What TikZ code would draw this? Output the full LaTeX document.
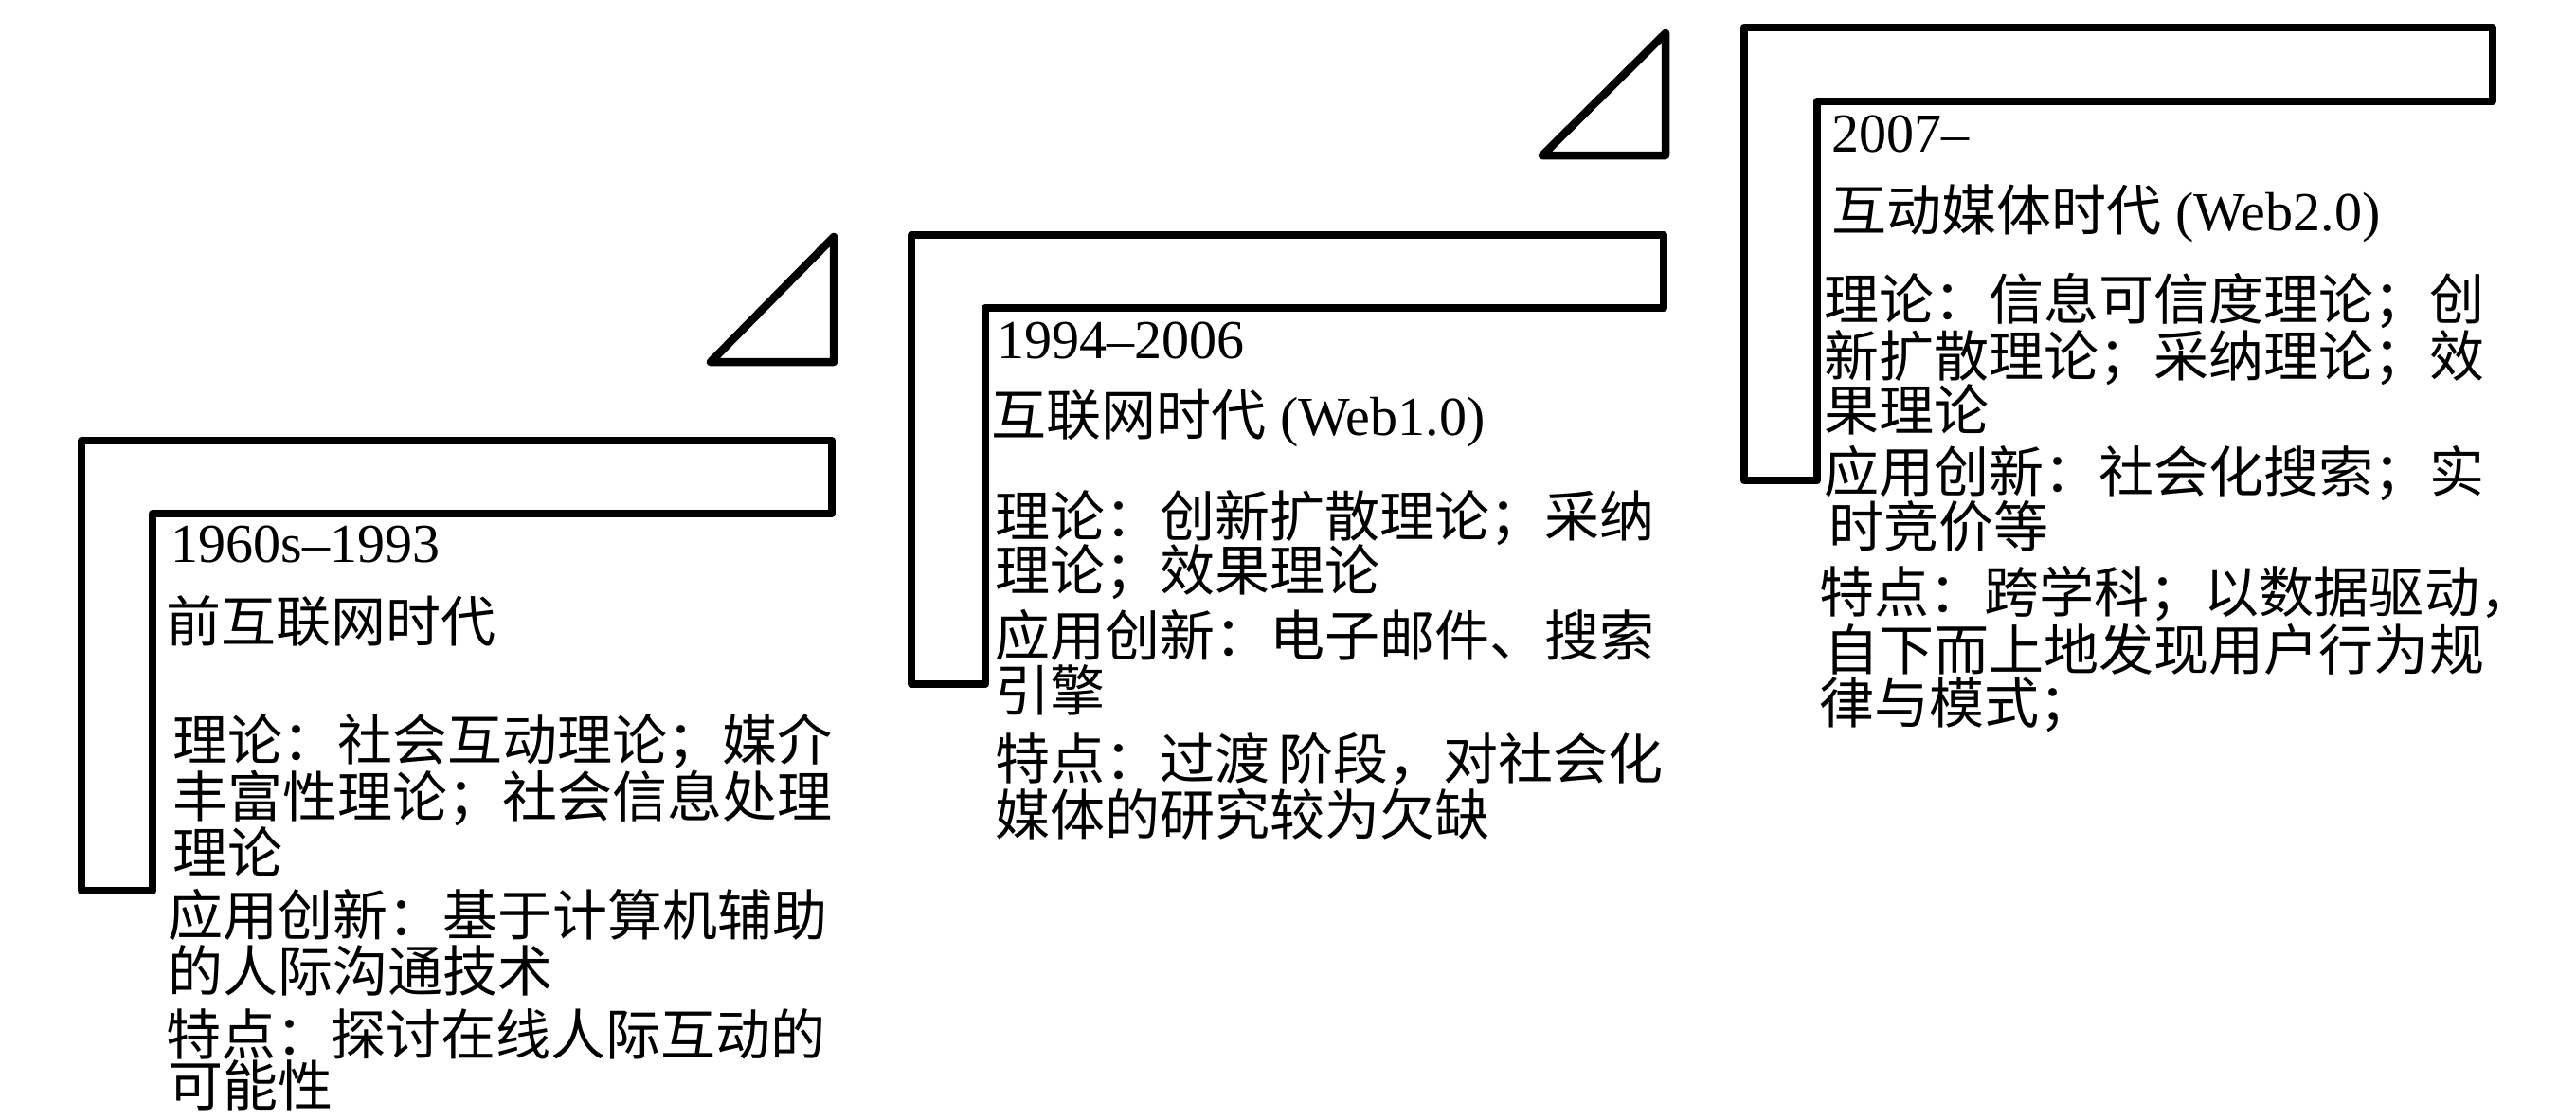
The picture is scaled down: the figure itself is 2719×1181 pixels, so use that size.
\documentclass[tikz,border=0pt]{standalone}
\usepackage{fontspec}
\setmainfont{Liberation Serif}
\newfontfamily\cjk{Noto Sans CJK SC}
\begin{document}
\begin{tikzpicture}[x=0.01cm,y=-0.01cm,
  lshape/.style={line width=0.085cm, line join=round, draw=black},
  txt/.style={anchor=base west, inner sep=0pt, font=\fontsize{16.5pt}{18pt}\selectfont},
  cj/.style={txt, font=\cjk\fontsize{16.5pt}{18pt}\selectfont}]
\useasboundingbox (0,0) rectangle (2719,1181);
% shapes
\draw[lshape] (86,465) -- (878,465) -- (878,542) -- (161,542) -- (161,940) -- (86,940) -- cycle;
\draw[lshape] (750,382) -- (880,382) -- (880,250) -- cycle;
\draw[lshape] (962,248) -- (1756,248) -- (1756,325) -- (1040,325) -- (1040,722) -- (962,722) -- cycle;
\draw[lshape] (1628,164) -- (1758,164) -- (1758,35) -- cycle;
\draw[lshape] (1841,29) -- (2631,29) -- (2631,107) -- (1918,107) -- (1918,507) -- (1841,507) -- cycle;
% text block 1
\node[txt] (t1a) at (180,593) {1960s–1993};
\node[cj] (t1b) at (175,677) {前互联网时代};
\node[cj] (t1c) at (182,802) {理论：社会互动理论；媒介};
\node[cj] (t1d) at (182,862) {丰富性理论；社会信息处理};
\node[cj] (t1e) at (182,921) {理论};
\node[cj] (t1f) at (177,987) {应用创新：基于计算机辅助};
\node[cj] (t1g) at (177,1046) {的人际沟通技术};
\node[cj] (t1h) at (175,1113) {特点：探讨在线人际互动的};
\node[cj] (t1i) at (177,1167) {可能性};
% text block 2
\node[txt] (t2a) at (1052,378) {1994–2006};
\node[txt] (t2b) at (1046,459) {{\cjk 互联网时代} (Web1.0)};
\node[cj] (t2c) at (1050,566) {理论：创新扩散理论；采纳};
\node[cj] (t2d) at (1050,623) {理论；效果理论};
\node[cj] (t2e) at (1050,692) {应用创新：电子邮件、搜索};
\node[cj] (t2f) at (1050,750) {引擎};
\node[cj] (t2g) at (1050,822) {特点：过渡\hspace{0.15em}阶段，对社会化};
\node[cj] (t2h) at (1050,881) {媒体的研究较为欠缺};
% text block 3
\node[txt] (t3a) at (1933,160) {2007–};
\node[txt] (t3b) at (1933,243) {{\cjk 互动媒体时代} (Web2.0)};
\node[cj] (t3c) at (1925,337) {理论：信息可信度理论；创};
\node[cj] (t3d) at (1925,397) {新扩散理论；采纳理论；效};
\node[cj] (t3e) at (1925,454) {果理论};
\node[cj] (t3f) at (1925,519) {应用创新：社会化搜索；实};
\node[cj] (t3g) at (1930,577) {时竞价等};
\node[cj] (t3h) at (1920,646) {特点：跨学科；以数据驱动，};
\node[cj] (t3i) at (1925,707) {自下而上地发现用户行为规};
\node[cj] (t3j) at (1920,763) {律与模式；};
\end{tikzpicture}
\end{document}
